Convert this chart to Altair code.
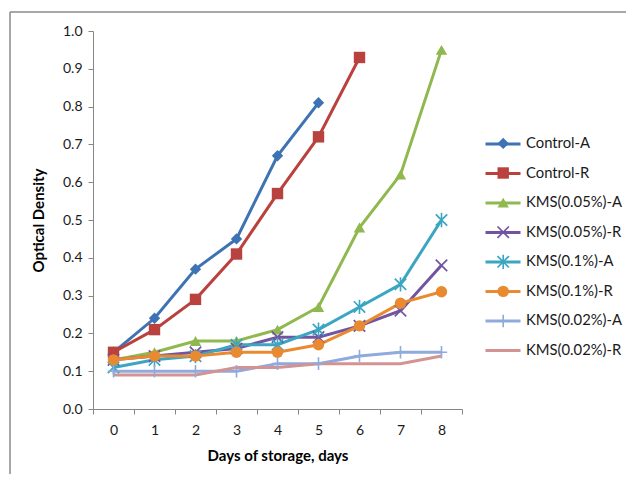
import altair as alt
import pandas as pd

days = list(range(9))
series_names = ["Control-A", "Control-R", "KMS(0.05%)-A", "KMS(0.05%)-R",
                "KMS(0.1%)-A", "KMS(0.1%)-R", "KMS(0.02%)-A", "KMS(0.02%)-R"]
control_a = [0.15, 0.24, 0.37, 0.45, 0.67, 0.81]
control_r = [0.15, 0.21, 0.29, 0.41, 0.57, 0.72, 0.93]
kms005_a = [0.13, 0.15, 0.18, 0.18, 0.21, 0.27, 0.48, 0.62, 0.95]
kms005_r = [0.13, 0.14, 0.15, 0.16, 0.19, 0.19, 0.22, 0.26, 0.38]
kms01_a = [0.11, 0.13, 0.14, 0.17, 0.17, 0.21, 0.27, 0.33, 0.50]
kms01_r = [0.13, 0.14, 0.14, 0.15, 0.15, 0.17, 0.22, 0.28, 0.31]
kms002_a = [0.10, 0.10, 0.10, 0.10, 0.12, 0.12, 0.14, 0.15, 0.15]
kms002_r = [0.09, 0.09, 0.09, 0.11, 0.11, 0.12, 0.12, 0.12, 0.14]

all_values = [control_a, control_r, kms005_a, kms005_r, kms01_a, kms01_r, kms002_a, kms002_r]
colors = ["#3D72B4", "#B9413E", "#8FB84E", "#7155A0", "#3BA6C1", "#E98A31", "#8FAADC", "#D49392"]

X_PATH = ("M-1.106,-0.894L0.894,1.106L1.106,0.894L-0.894,-1.106Z"
          "M-0.894,1.106L1.106,-0.894L0.894,-1.106L-1.106,0.894Z")
STAR_PATH = X_PATH + "M-0.14,-1.25L-0.14,1.25L0.14,1.25L0.14,-1.25Z"
PLUS_PATH = ("M-0.14,-1.1L-0.14,1.1L0.14,1.1L0.14,-1.1Z"
             "M-1,-0.14L-1,0.14L1,0.14L1,-0.14Z")
shapes = ["diamond", "square", "triangle-up", X_PATH, STAR_PATH, "circle",
          PLUS_PATH, "M0,0L0,0Z"]

rows = []
for name, vals in zip(series_names, all_values):
    for d, v in zip(days, vals):
        rows.append({"day": d, "od": v, "series": name})
df = pd.DataFrame(rows)

FONT = "Lato"
LEG_FS = 14.8
MSIZE = 130
x_enc = alt.X("day:Q", scale=alt.Scale(domain=[-0.5, 8.5], nice=False, zero=False),
              axis=alt.Axis(values=[i - 0.5 for i in range(10)],
                            labelExpr="datum.value < 8 ? format(datum.value + 0.5, 'd') : ''",
                            labelOffset=20.5, labelOverlap=False, labelFlush=False,
                            title="Days of storage, days", titlePadding=11,
                            labelPadding=9, grid=False))
y_enc = alt.Y("od:Q", scale=alt.Scale(domain=[0, 1], nice=False),
              axis=alt.Axis(values=[i / 10 for i in range(11)], format=".1f",
                            title="Optical Density", titlePadding=16,
                            labelPadding=6, grid=False))

base = alt.Chart(df)

LINE_LEG_Y = 94
PT_LEG_Y = 105
pt_legend = alt.Legend(title=None, orient="none", legendX=402.8, legendY=PT_LEG_Y,
                       symbolSize=MSIZE, symbolOpacity=1, symbolStrokeWidth=0,
                       labelFontSize=LEG_FS, labelFont=FONT, labelExpr="''",
                       rowPadding=13.6, labelOffset=4)

lines = base.mark_line(strokeWidth=3).encode(
    x=x_enc, y=y_enc,
    color=alt.Color("series:N", scale=alt.Scale(domain=series_names, range=colors),
                    legend=alt.Legend(title=None, orient="none", legendX=391, legendY=LINE_LEG_Y,
                                      symbolType="stroke", symbolSize=1225,
                                      symbolStrokeWidth=3, labelFontSize=LEG_FS,
                                      labelFont=FONT, labelColor="#1a1a1a",
                                      rowPadding=3.5, labelOffset=4)),
)

points = base.mark_point(filled=True, size=MSIZE, opacity=1).encode(
    x=x_enc, y=y_enc,
    color=alt.Color("series:N", scale=alt.Scale(domain=series_names, range=colors),
                    legend=pt_legend),
    shape=alt.Shape("series:N", scale=alt.Scale(domain=series_names, range=shapes),
                    legend=pt_legend),
)

frame_df = pd.DataFrame({"k": [0]})
frame_top = alt.Chart(frame_df).mark_rule(color="#8a8a8a", strokeWidth=1.5).encode(
    x=alt.value(-83), x2=alt.value(560), y=alt.value(-19))
frame_left = alt.Chart(frame_df).mark_rule(color="#8a8a8a", strokeWidth=1.5).encode(
    x=alt.value(-83), y=alt.value(-19), y2=alt.value(470))

chart = alt.layer(frame_top, frame_left, lines, points).resolve_scale(
    color="independent", shape="independent"
).resolve_legend(color="independent", shape="independent").properties(
    width=369, height=378,
    padding={"left": 85, "top": 23, "right": 164, "bottom": 65},
    autosize=alt.AutoSizeParams(type="none"),
).configure_view(stroke=None).configure_axis(
    domainColor="#868686", tickColor="#868686", tickSize=5, domainWidth=1,
    labelFont=FONT, labelFontSize=14, labelColor="#1a1a1a",
    titleFont=FONT, titleFontSize=15, titleFontWeight="bold", titleColor="#000000",
)

chart.save("out.html", embed_options={"renderer": "svg", "actions": False})
